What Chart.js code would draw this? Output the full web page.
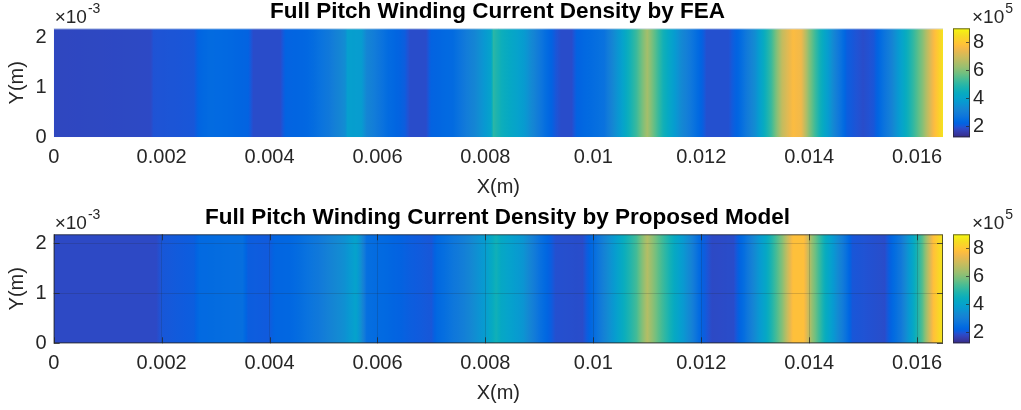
<!DOCTYPE html>
<html>
<head>
<meta charset="utf-8">
<script src="https://cdn.jsdelivr.net/npm/chart.js@4.4.0/dist/chart.umd.min.js"></script>
<style>
body { margin: 0; background: #fff; }
.panel { position: absolute; left: 0; width: 1021px; height: 205px; }
</style>
</head>
<body>
<div class="panel" style="top:0px"><canvas id="fea" width="1021" height="205"></canvas></div>
<div class="panel" style="top:206px"><canvas id="model" width="1021" height="205"></canvas></div>
<script>
'use strict';

// axis ticks
const X_TICKS = [0, 0.002, 0.004, 0.006, 0.008, 0.01, 0.012, 0.014, 0.016];
const Y_TICKS = [0, 0.001, 0.002];
const CB_TICKS = [2, 4, 6, 8];          // x10^5
const X_MAX = 0.01648;
const Y_MAX = 0.00218;
const J_MIN = 1.2, J_MAX = 9.0;         // colour limits, x10^5

// FEA : current density along x (x10^5 A/m^2)
const feaX = [0, 0.0018, 0.00185, 0.0026, 0.0027, 0.0029, 0.0033, 0.0036, 0.0037, 0.0042,
              0.0043, 0.0047, 0.0051, 0.0054, 0.00545, 0.0057, 0.0058, 0.0062, 0.0065, 0.0066,
              0.0069, 0.0070, 0.0074, 0.0078, 0.0081, 0.00815, 0.0083, 0.0087, 0.0091, 0.0093,
              0.0094, 0.0096, 0.0097, 0.0102, 0.0105, 0.0108, 0.0110, 0.0111, 0.0113, 0.0116,
              0.0119, 0.0121, 0.0125, 0.0127, 0.0130, 0.0133, 0.0135, 0.0137, 0.01385, 0.0140,
              0.0142, 0.0145, 0.0147, 0.0150, 0.0152, 0.0155, 0.0158, 0.0161, 0.0163, 0.01648];
const feaJ = [1.75, 1.8, 1.95, 2.0, 2.25, 2.4, 2.3, 2.2, 1.85, 1.85,
              2.2, 2.3, 2.8, 3.4, 3.9, 3.8, 3.2, 2.4, 2.1, 1.85,
              1.85, 2.2, 2.4, 3.2, 4.0, 5.0, 4.5, 3.8, 2.5, 2.0,
              1.85, 1.85, 2.2, 2.6, 3.8, 5.2, 6.4, 5.8, 4.6, 3.4,
              2.5, 1.9, 1.9, 2.3, 3.4, 5.2, 6.8, 7.7, 7.5, 6.0,
              4.6, 3.0, 2.1, 1.85, 2.0, 3.0, 4.4, 6.0, 7.6, 8.6];

// proposed model
const modelX = [0, 0.0019, 0.002, 0.0026, 0.0027, 0.0032, 0.0035, 0.0036, 0.0040, 0.0041,
                0.0044, 0.0049, 0.0054, 0.0056, 0.0057, 0.0058, 0.0062, 0.0066, 0.0070, 0.0071,
                0.0076, 0.0080, 0.0082, 0.0083, 0.0087, 0.0090, 0.0093, 0.0098, 0.0100, 0.0104,
                0.0108, 0.0110, 0.0112, 0.0115, 0.0118, 0.0120, 0.0122, 0.0126, 0.0128, 0.0132,
                0.0135, 0.0137, 0.0139, 0.01405, 0.0143, 0.0146, 0.0148, 0.0154, 0.0157, 0.0159,
                0.0161, 0.0163, 0.01648];
const modelJ = [1.8, 1.8, 2.0, 2.1, 2.35, 2.45, 2.5, 2.1, 2.05, 2.25,
                2.3, 2.8, 3.5, 4.0, 3.4, 2.5, 2.3, 2.1, 2.0, 2.3,
                3.0, 3.8, 4.6, 4.2, 3.6, 2.6, 1.9, 1.85, 2.4, 3.8,
                5.3, 6.6, 5.6, 4.3, 3.2, 2.2, 1.8, 1.85, 2.5, 4.2,
                6.0, 7.8, 7.8, 6.2, 4.4, 3.0, 2.0, 1.85, 2.8, 4.0,
                5.5, 7.8, 8.7];

// parula colormap (64 rows)
const PARULA = [
  [0.2081,0.1663,0.5292],[0.2116,0.1898,0.5777],[0.2123,0.2138,0.6270],[0.2081,0.2386,0.6771],
  [0.1959,0.2645,0.7279],[0.1707,0.2919,0.7792],[0.1253,0.3242,0.8303],[0.0591,0.3598,0.8683],
  [0.0117,0.3875,0.8820],[0.0060,0.4086,0.8828],[0.0165,0.4266,0.8786],[0.0329,0.4430,0.8720],
  [0.0498,0.4586,0.8641],[0.0629,0.4737,0.8554],[0.0723,0.4887,0.8467],[0.0779,0.5040,0.8384],
  [0.0793,0.5200,0.8312],[0.0749,0.5375,0.8263],[0.0641,0.5570,0.8240],[0.0488,0.5772,0.8228],
  [0.0343,0.5966,0.8199],[0.0265,0.6137,0.8135],[0.0239,0.6287,0.8038],[0.0231,0.6418,0.7913],
  [0.0228,0.6535,0.7768],[0.0267,0.6642,0.7607],[0.0384,0.6743,0.7436],[0.0590,0.6838,0.7254],
  [0.0843,0.6928,0.7062],[0.1133,0.7015,0.6859],[0.1453,0.7098,0.6646],[0.1801,0.7177,0.6424],
  [0.2178,0.7250,0.6193],[0.2586,0.7317,0.5954],[0.3022,0.7376,0.5712],[0.3482,0.7424,0.5473],
  [0.3953,0.7459,0.5244],[0.4420,0.7481,0.5033],[0.4871,0.7491,0.4840],[0.5300,0.7491,0.4661],
  [0.5709,0.7485,0.4494],[0.6099,0.7473,0.4337],[0.6473,0.7456,0.4188],[0.6834,0.7435,0.4044],
  [0.7184,0.7411,0.3905],[0.7525,0.7384,0.3768],[0.7858,0.7356,0.3633],[0.8185,0.7327,0.3498],
  [0.8507,0.7299,0.3360],[0.8824,0.7274,0.3217],[0.9139,0.7258,0.3063],[0.9450,0.7261,0.2886],
  [0.9739,0.7314,0.2666],[0.9938,0.7455,0.2403],[0.9990,0.7653,0.2164],[0.9955,0.7861,0.1967],
  [0.9880,0.8066,0.1794],[0.9789,0.8271,0.1633],[0.9697,0.8481,0.1475],[0.9626,0.8705,0.1309],
  [0.9589,0.8949,0.1132],[0.9598,0.9218,0.0948],[0.9661,0.9514,0.0755],[0.9763,0.9831,0.0538]
];

const FONT = '"Liberation Sans", Arial, Helvetica, sans-serif';
const INK = '#262626';

function parula(t) {
  t = Math.min(1, Math.max(0, t)) * (PARULA.length - 1);
  const i = Math.min(PARULA.length - 2, Math.floor(t)), f = t - i;
  const a = PARULA[i], b = PARULA[i + 1];
  const c = k => Math.round(255 * (a[k] + (b[k] - a[k]) * f));
  return 'rgb(' + c(0) + ',' + c(1) + ',' + c(2) + ')';
}
const jColor = j => parula((j - J_MIN) / (J_MAX - J_MIN));

// horizontal gradient built from the x scale, value interpolated before colour mapping
function heatFill(chart, xs, js) {
  const {ctx, chartArea, scales} = chart;
  if (!chartArea) return null;
  const sx = scales.x;
  const p0 = sx.getPixelForValue(xs[0]), p1 = sx.getPixelForValue(xs[xs.length - 1]);
  const g = ctx.createLinearGradient(p0, 0, p1, 0);
  const SUB = 8;
  for (let i = 0; i < xs.length - 1; i++) {
    for (let k = 0; k < SUB; k++) {
      const f = k / SUB;
      const px = sx.getPixelForValue(xs[i] + (xs[i + 1] - xs[i]) * f);
      g.addColorStop((px - p0) / (p1 - p0), jColor(js[i] + (js[i + 1] - js[i]) * f));
    }
  }
  g.addColorStop(1, jColor(js[js.length - 1]));
  return g;
}

function drawPow(ctx, x, y, base, sup) {
  ctx.font = '19px ' + FONT;
  ctx.textAlign = 'left';
  ctx.textBaseline = 'alphabetic';
  ctx.fillStyle = INK;
  ctx.fillText(base, x, y);
  const w = ctx.measureText(base).width;
  ctx.font = '14px ' + FONT;
  ctx.fillText(sup, x + w + 1, y - 10);
}

const decorPlugin = {
  id: 'decor',
  afterDraw(chart, args, opts) {
    const {ctx, chartArea: a, scales} = chart;
    const cb = scales.cb;
    const top = cb.getPixelForValue(J_MAX), bot = cb.getPixelForValue(J_MIN);
    const cx = a.right + 10, cw = 17;
    ctx.save();
    const g = ctx.createLinearGradient(0, bot, 0, top);
    for (let i = 0; i <= 63; i++) g.addColorStop(i / 63, parula(i / 63));
    ctx.fillStyle = g;
    ctx.fillRect(cx, top, cw, bot - top);
    ctx.strokeStyle = 'rgba(38,38,38,0.7)';
    ctx.lineWidth = 1;
    ctx.strokeRect(cx + 0.5, top + 0.5, cw - 1, bot - top - 1);
    ctx.beginPath();
    CB_TICKS.forEach(v => {
      const py = Math.round(cb.getPixelForValue(v)) + 0.5;
      ctx.moveTo(cx + cw - 1, py); ctx.lineTo(cx + cw - 4, py);
    });
    ctx.stroke();

    if (opts.box) {
      const sx = scales.x, sy = scales.y;
      ctx.strokeStyle = 'rgba(38,38,38,0.75)';
      ctx.beginPath();
      X_TICKS.forEach(v => {
        const px = Math.round(sx.getPixelForValue(v)) + 0.5;
        ctx.moveTo(px, a.bottom); ctx.lineTo(px, a.bottom - 6);
        ctx.moveTo(px, a.top); ctx.lineTo(px, a.top + 6);
      });
      Y_TICKS.forEach(v => {
        const py = Math.round(sy.getPixelForValue(v)) + 0.5;
        ctx.moveTo(a.left, py); ctx.lineTo(a.left + 6, py);
        ctx.moveTo(a.right, py); ctx.lineTo(a.right - 6, py);
      });
      ctx.stroke();
      ctx.strokeRect(a.left + 0.5, a.top + 0.5, a.right - a.left - 1, a.bottom - a.top - 1);
    } else {
      ctx.strokeStyle = 'rgba(220,228,240,0.9)';
      ctx.beginPath();
      ctx.moveTo(a.left, a.top + 0.5); ctx.lineTo(a.right, a.top + 0.5);
      ctx.stroke();
    }

    drawPow(ctx, a.left + 1, a.top - 5, '\u00d710', '-3');
    drawPow(ctx, cx + 19, a.top - 5, '\u00d710', '5');
    ctx.restore();
  }
};

function makePanel(id, title, xs, js, withGrid) {
  const gridOpts = withGrid
    ? { display: true, drawTicks: false, color: 'rgba(38,38,38,0.18)', lineWidth: 1, z: 1 }
    : { display: false, drawTicks: false };
  return new Chart(document.getElementById(id), {
    type: 'line',
    data: {
      datasets: [{
        data: xs.map(x => ({ x: x, y: Y_MAX })),
        fill: 'origin',
        borderWidth: 0,
        pointRadius: 0,
        tension: 0,
        backgroundColor: c => heatFill(c.chart, xs, js)
      }]
    },
    options: {
      responsive: false,
      animation: false,
      events: [],
      layout: { padding: { left: 0, right: 26, top: 0, bottom: 0 } },
      plugins: {
        legend: { display: false },
        tooltip: { enabled: false },
        title: {
          display: true,
          text: title,
          color: '#000',
          font: { family: FONT, size: 22.5, weight: 'bold', lineHeight: 1 },
          padding: { top: 0.5, bottom: 5.3 }
        },
        decor: { box: withGrid }
      },
      scales: {
        x: {
          type: 'linear',
          min: 0,
          max: X_MAX,
          afterFit: s => { s.height = 67.7; },
          afterBuildTicks: s => { s.ticks = X_TICKS.map(v => ({ value: v })); },
          ticks: {
            color: INK,
            padding: 8,
            maxRotation: 0,
            autoSkip: false,
            font: { family: FONT, size: 20 },
            callback: v => String(Number(v.toFixed(4)))
          },
          grid: gridOpts,
          border: { display: false },
          title: {
            display: true,
            text: 'X(m)',
            color: INK,
            font: { family: FONT, size: 20 },
            padding: { top: 0, bottom: 6 }
          }
        },
        y: {
          type: 'linear',
          min: 0,
          max: Y_MAX,
          afterFit: s => { s.width = 53.7; },
          afterBuildTicks: s => { s.ticks = Y_TICKS.map(v => ({ value: v })); },
          ticks: {
            color: INK,
            padding: 7,
            font: { family: FONT, size: 20 },
            callback: v => String(Math.round(v * 1000))
          },
          grid: gridOpts,
          border: { display: false },
          title: {
            display: true,
            text: 'Y(m)',
            color: INK,
            font: { family: FONT, size: 20 },
            padding: { top: 5, bottom: 0 }
          }
        },
        cb: {
          type: 'linear',
          position: 'right',
          min: J_MIN,
          max: J_MAX,
          afterFit: s => { s.width = 52; s.paddingTop = 0; s.paddingBottom = 0; },
          afterBuildTicks: s => { s.ticks = CB_TICKS.map(v => ({ value: v })); },
          ticks: {
            color: INK,
            padding: 30,
            font: { family: FONT, size: 20 },
            callback: v => String(v)
          },
          grid: { display: false, drawTicks: false },
          border: { display: false }
        }
      }
    },
    plugins: [decorPlugin]
  });
}

makePanel('fea', 'Full Pitch Winding Current Density by FEA', feaX, feaJ, false);
makePanel('model', 'Full Pitch Winding Current Density by Proposed Model', modelX, modelJ, true);
</script>
</body>
</html>
